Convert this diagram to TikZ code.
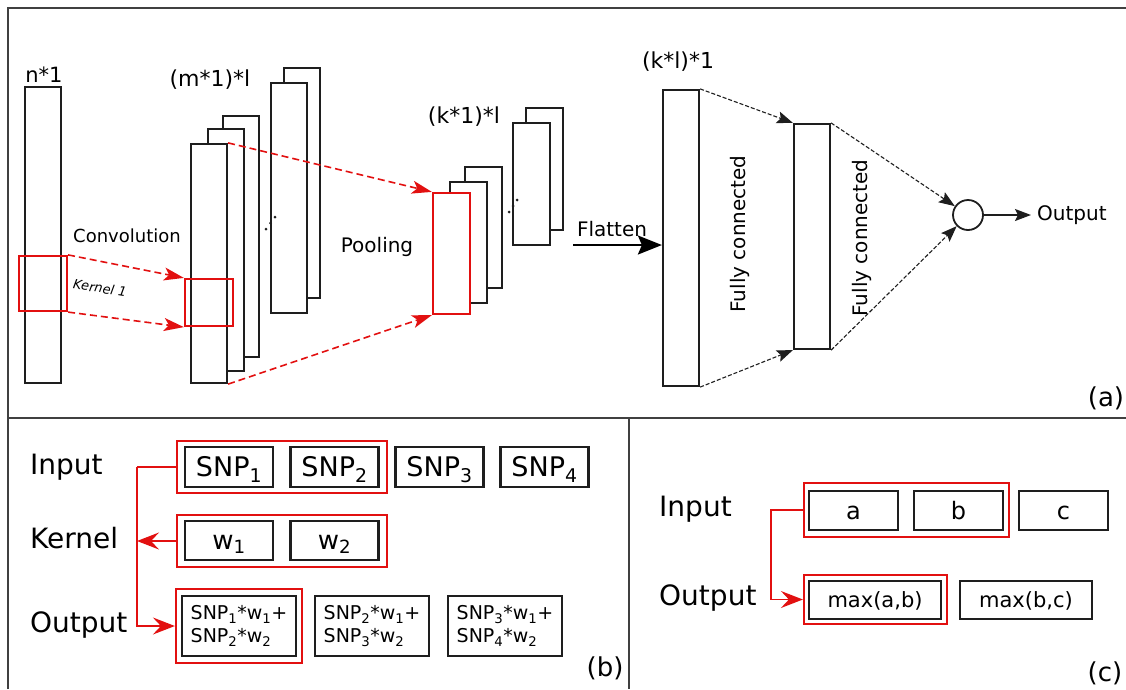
\documentclass[tikz,border=0pt]{standalone}
\usepackage{fontspec}
\setmainfont{DejaVu Sans}
\usetikzlibrary{arrows.meta}
\definecolor{hired}{RGB}{226,16,16}
\definecolor{ink}{RGB}{30,30,30}
\newcommand{\fsz}[2]{\fontsize{#1}{#2}\selectfont}
\begin{document}
\begin{tikzpicture}[x=1pt,y=-1pt,
  frame/.style={draw=ink!85, line width=1.8pt},
  layer/.style={draw=ink, line width=2.2pt, fill=white, inner sep=0pt, rectangle},
  hibox/.style={draw=hired, line width=2.2pt, inner sep=0pt, rectangle},
  hifill/.style={hibox, fill=white},
  cell/.style={draw=ink, line width=2.2pt, rectangle, inner sep=0pt, text depth=0pt},
  sumcell/.style={draw=ink, line width=2.2pt, rectangle, inner sep=0pt, align=left, font=\fsz{19}{23}},
  lbl/.style={inner sep=0pt},
  redflow/.style={draw=hired, line width=1.6pt, dash pattern=on 7pt off 4pt, -{Stealth[length=20pt,width=13pt,inset=5pt]}},
  fcflow/.style={draw=ink, line width=1.1pt, dash pattern=on 4pt off 2pt, -{Stealth[length=16pt,width=12pt,inset=3pt]}},
  bus/.style={draw=hired, line width=1.6pt},
  busarrow/.style={bus, -{Stealth[length=22pt,width=17pt,inset=8pt]}},
  dot/.style={fill=ink}
]
\useasboundingbox (0,0) rectangle (1126,689);

% ---------- panel frames ----------
\draw[frame] (8,689) -- (8,8) -- (1130,8);
\draw[frame] (8,418) -- (1130,418);
\draw[frame] (629,418) -- (629,689);

% ---------- (a) convolutional network ----------
% input column and its kernel window
\node[layer, minimum width=36pt, minimum height=296pt] (incol) at (43,235) {};
\node[hibox, minimum width=48pt, minimum height=55pt] (kin) at (43,283.5) {};
\node[lbl, font=\fsz{21}{25}] (lblN) at (44,75) {n*1};

% convolution feature maps
\node[layer, minimum width=36pt, minimum height=230pt] (convB2) at (302,183) {};
\node[layer, minimum width=36pt, minimum height=230pt] (convB1) at (289,198) {};
\node[layer, minimum width=36pt, minimum height=241pt] (conv3) at (241,236.5) {};
\node[layer, minimum width=36pt, minimum height=242pt] (conv2) at (226,250) {};
\node[layer, minimum width=36pt, minimum height=239pt] (conv1) at (209,263.5) {};
\node[hibox, minimum width=48pt, minimum height=47pt] (kconv) at (209,302.5) {};
\fill[dot] (266,229) circle (1.5pt) (270.5,223) circle (1.5pt) (275,217) circle (1.5pt);
\node[lbl, font=\fsz{22}{26}] (lblM) at (210,80) {(m*1)*l};

\node[lbl, font=\fsz{18}{22}] (lblConv) at (127,236) {Convolution};
\node[lbl, font=\fsz{13}{15}\itshape, rotate=-9] (lblKer) at (100,288) {Kernel 1};

\draw[redflow] (kin.north east) -- (kconv.north west);
\draw[redflow] (kin.south east) -- (kconv.south west);

% pooled feature maps
\node[layer, minimum width=37pt, minimum height=121pt] (pool3) at (483.5,227.5) {};
\node[layer, minimum width=37pt, minimum height=121pt] (pool2) at (468.5,242.5) {};
\node[hifill, minimum width=37pt, minimum height=121pt] (pool1) at (451.5,253.5) {};
\node[layer, minimum width=37pt, minimum height=122pt] (poolB2) at (544.5,169) {};
\node[layer, minimum width=37pt, minimum height=122pt] (poolB1) at (531.5,184) {};
\fill[dot] (509,212) circle (1.5pt) (513,206) circle (1.5pt) (517,200) circle (1.5pt);
\node[lbl, font=\fsz{22}{26}] (lblK) at (464,117) {(k*1)*l};

\draw[redflow] (conv1.north east) -- (pool1.north west);
\draw[redflow] (conv1.south east) -- (pool1.south west);
\node[lbl, font=\fsz{20}{24}] (lblPool) at (377,247) {Pooling};

% flattening and dense layers
\node[layer, minimum width=36pt, minimum height=296pt] (fc1) at (681,238) {};
\node[layer, minimum width=36pt, minimum height=225pt] (fc2) at (812,236.5) {};
\node[lbl, font=\fsz{22}{26}] (lblKL) at (678,62) {(k*l)*1};

\coordinate (flatStart) at (573,245);
\draw[draw=black, line width=2pt, -{Stealth[length=24pt,width=19pt,inset=4pt]}] (flatStart) -- (flatStart -| fc1.west);
\node[lbl, font=\fsz{20}{24}] (lblFlat) at (612,229) {Flatten};

\node[lbl, font=\fsz{20}{24}, rotate=90] (lblFC1) at (740,234) {Fully connected};
\node[lbl, font=\fsz{20}{24}, rotate=90] (lblFC2) at (862,238) {Fully connected};

\node[draw=ink, line width=1.8pt, circle, minimum size=30pt, inner sep=0pt] (sum) at (968,215) {};
\draw[fcflow] (fc1.north east) -- (fc2.north west);
\draw[fcflow] (fc1.south east) -- (fc2.south west);
\draw[fcflow] (fc2.north east) -- (sum);
\draw[fcflow] (fc2.south east) -- (sum);

\node[lbl, anchor=west, font=\fsz{20}{24}] (outA) at (1037,215) {Output};
\draw[draw=ink, line width=1.5pt, -{Stealth[length=16pt,width=12pt,inset=3pt]}] (sum.east) -- ([xshift=-6pt]outA.west);

\node[lbl, font=\fsz{26}{30}] (tagA) at (1106,398) {(a)};

% ---------- (b) convolution example ----------
\node[lbl, anchor=base west, font=\fsz{28}{32}] (bIn) at (30,474) {Input};
\node[lbl, anchor=base west, font=\fsz{28}{32}] (bKer) at (30,548) {Kernel};
\node[lbl, anchor=base west, font=\fsz{28}{32}] (bOut) at (30,632) {Output};

\node[hibox, minimum width=210pt, minimum height=52pt] (bInSel) at (282,467) {};
\node[cell, text height=19.7pt, minimum width=88pt, minimum height=40pt, font=\fsz{27}{31}] (snp1) at (229,467) {SNP\textsubscript{1}};
\node[cell, text height=19.7pt, minimum width=88pt, minimum height=40pt, font=\fsz{27}{31}] (snp2) at (334.5,467) {SNP\textsubscript{2}};
\node[cell, text height=19.7pt, minimum width=88pt, minimum height=40pt, font=\fsz{27}{31}] (snp3) at (439.5,467) {SNP\textsubscript{3}};
\node[cell, text height=19.7pt, minimum width=88pt, minimum height=40pt, font=\fsz{27}{31}] (snp4) at (544.5,467) {SNP\textsubscript{4}};

\node[hibox, minimum width=210pt, minimum height=52pt] (bKerSel) at (282,541) {};
\node[cell, text height=17pt, minimum width=88pt, minimum height=39pt, font=\fsz{26}{30}] (w1) at (229,540.5) {w\textsubscript{1}};
\node[cell, text height=17pt, minimum width=88pt, minimum height=39pt, font=\fsz{26}{30}] (w2) at (334.5,540.5) {w\textsubscript{2}};

\node[hibox, minimum width=126pt, minimum height=74pt] (bOutSel) at (239,626) {};
\node[sumcell, minimum width=114pt, minimum height=60pt] (o1) at (239,626) {SNP\textsubscript{1}*w\textsubscript{1}+\\SNP\textsubscript{2}*w\textsubscript{2}};
\node[sumcell, minimum width=114pt, minimum height=60pt] (o2) at (372,626) {SNP\textsubscript{2}*w\textsubscript{1}+\\SNP\textsubscript{3}*w\textsubscript{2}};
\node[sumcell, minimum width=114pt, minimum height=60pt] (o3) at (505,626) {SNP\textsubscript{3}*w\textsubscript{1}+\\SNP\textsubscript{4}*w\textsubscript{2}};

\coordinate (bBus) at (137,466);
\draw[bus] (bInSel.west) -- (bInSel.west -| bBus);
\draw[busarrow] (bInSel.west -| bBus) |- (bOutSel.west);
\draw[busarrow] (bKerSel.west) -- (bKerSel.west -| bBus);

\node[lbl, font=\fsz{26}{30}] (tagB) at (605,668) {(b)};

% ---------- (c) pooling example ----------
\node[lbl, anchor=base west, font=\fsz{28}{32}] (cIn) at (659,516) {Input};
\node[lbl, anchor=base west, font=\fsz{28}{32}] (cOut) at (659,605) {Output};

\node[hibox, minimum width=205pt, minimum height=54pt] (cInSel) at (906.5,510) {};
\node[cell, text height=17.5pt, minimum width=89pt, minimum height=39pt, font=\fsz{24}{28}] (ca) at (853.5,510.5) {a};
\node[cell, text height=17.5pt, minimum width=89pt, minimum height=39pt, font=\fsz{24}{28}] (cb) at (958.5,510.5) {b};
\node[cell, text height=17.5pt, minimum width=89pt, minimum height=39pt, font=\fsz{24}{28}] (cc) at (1063.5,510.5) {c};

\node[hibox, minimum width=143pt, minimum height=49pt] (cOutSel) at (875.5,599.5) {};
\node[cell, text height=15.3pt, minimum width=132pt, minimum height=38pt, font=\fsz{21}{25}] (mab) at (875,600) {max(a,b)};
\node[cell, text height=15.3pt, minimum width=132pt, minimum height=38pt, font=\fsz{21}{25}] (mbc) at (1026,600) {max(b,c)};

\coordinate (cBus) at (771,510);
\draw[busarrow] (cInSel.west) -- (cBus) |- (cOutSel.west);

\node[lbl, font=\fsz{26}{30}] (tagC) at (1105,673) {(c)};
\end{tikzpicture}
\end{document}
